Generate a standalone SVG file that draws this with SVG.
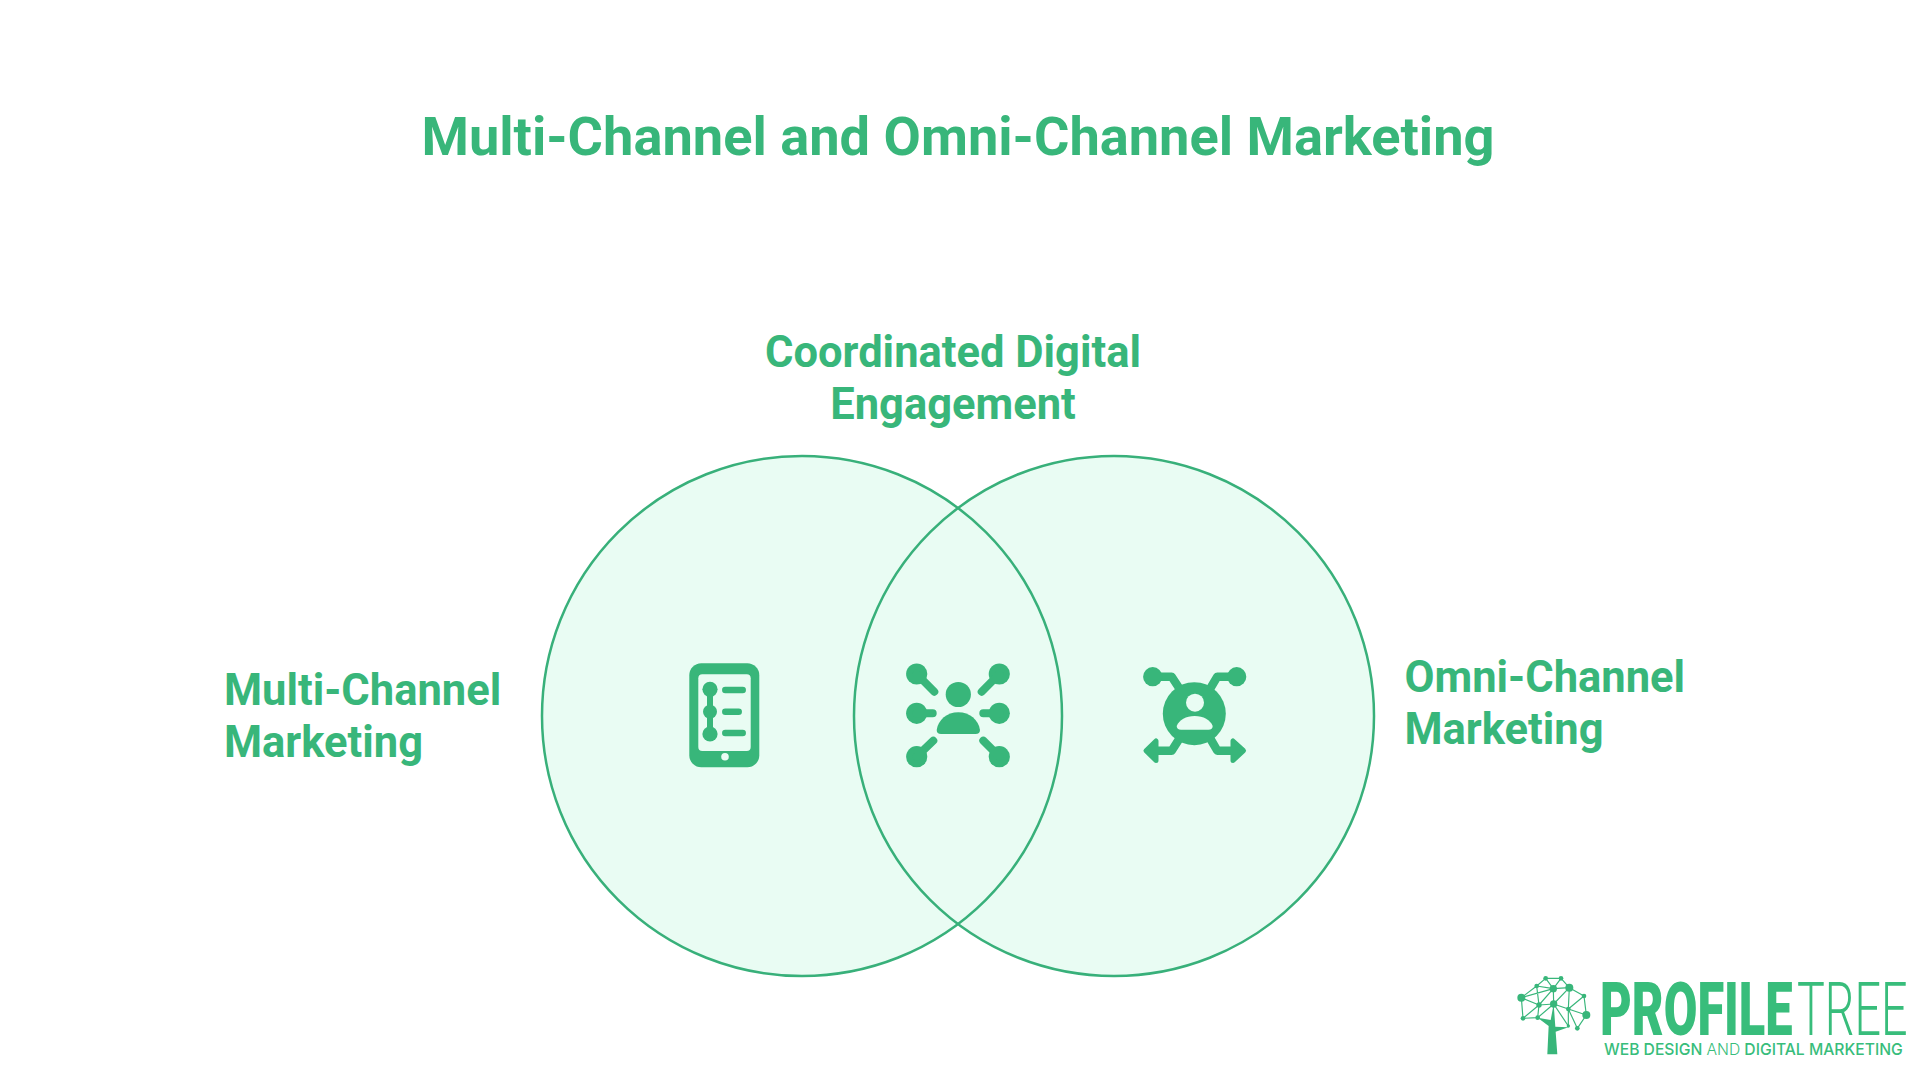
<svg xmlns="http://www.w3.org/2000/svg" width="1920" height="1080" viewBox="0 0 1920 1080">
<style>
.t{font-family:Roboto,"Liberation Sans",sans-serif;font-weight:700;fill:#38b67a}
.title{font-size:54.200px}
.lab{font-size:43.500px}
.c{fill:#e9fcf3;stroke:none}
.o{fill:none;stroke:#38b07a;stroke-width:2.500}
.i{fill:#38b67a}
.h{fill:#e9fcf3}
.l{stroke:#38b67a;stroke-linecap:round;stroke-linejoin:round;fill:none}
.n{stroke:#38b67a;stroke-width:3.500;fill:none}
.g{font-family:Roboto,sans-serif;font-size:74px;fill:#38bd7b}
</style>
<rect width="1920" height="1080" fill="#ffffff"/>
<text id="title" class="t title" x="958" y="155" text-anchor="middle">Multi-Channel and Omni-Channel Marketing</text>
<g id="circle-left"><circle class="c" cx="802" cy="716" r="260"/></g>
<g id="circle-right"><circle class="c" cx="1114" cy="716" r="260"/></g>
<g id="circle-outlines"><circle class="o" cx="802" cy="716" r="260"/><circle class="o" cx="1114" cy="716" r="260"/></g>
<g id="label-left"><text class="t lab" x="224" y="704.500">Multi-Channel</text><text class="t lab" x="224" y="757">Marketing</text></g>
<g id="label-top"><text class="t lab" x="953" y="367" text-anchor="middle">Coordinated Digital</text><text class="t lab" x="953" y="418.500" text-anchor="middle">Engagement</text></g>
<g id="label-right"><text class="t lab" x="1404.500" y="691.500">Omni-Channel</text><text class="t lab" x="1404.500" y="744">Marketing</text></g>
<g id="icon-phone">
<rect class="i" x="689.300" y="663.300" width="70" height="104" rx="12"/>
<rect class="h" x="698.300" y="674.300" width="52.400" height="76.700" rx="4"/>
<circle class="h" cx="725" cy="756.700" r="3.800"/>
<path class="l" d="M710 689.300V734" stroke-width="6"/>
<circle class="i" cx="710" cy="689.300" r="7.600"/><circle class="i" cx="710" cy="711.700" r="7"/><circle class="i" cx="710" cy="734" r="7.600"/>
<path class="l" d="M725.300 690H742.700M725.300 711.700H738.700M725.300 733H742.700" stroke-width="6.500"/>
</g>
<g id="icon-people">
<circle class="i" cx="958.300" cy="694.500" r="12.600"/>
<path class="i" d="M941 734Q936.700 734 936.700 730C938 720 947 712.300 958.300 712.300S978.600 720 980 730Q980 734 975.600 734Z"/>
<g class="i"><circle cx="916.700" cy="674" r="10.600"/><circle cx="999.300" cy="674" r="10.600"/><circle cx="916.700" cy="713.300" r="10.600"/><circle cx="999.300" cy="713.300" r="10.600"/><circle cx="916.700" cy="756.700" r="10.600"/><circle cx="999.300" cy="756.700" r="10.600"/></g>
<path class="l" d="M916.700 674L934.300 691.700M999.300 674L981.700 691.700M916.700 713.300H932.700M999.300 713.300H983.300M916.700 756.700L933.300 740.700M999.300 756.700L983.300 740.700" stroke-width="8"/>
</g>
<g id="icon-hub">
<path class="l" d="M1152.700 676.700H1171.700L1183 694M1236.700 676.700H1217.300L1207 694M1152 750.700H1171.700L1183 733M1238 750.700H1217.300L1207 733" stroke-width="8.500"/>
<circle class="i" cx="1194.300" cy="713.700" r="31.500"/>
<circle class="h" cx="1195" cy="702.700" r="9"/>
<path class="h" d="M1181 729.700Q1176.700 729.700 1176.700 726C1179 720 1186 716 1194.700 716S1210.400 720 1212.700 726Q1212.700 729.700 1208.400 729.700Z"/>
<circle class="i" cx="1152.700" cy="676.700" r="9.600"/><circle class="i" cx="1236.700" cy="676.700" r="9.600"/>
<path class="i" stroke="#38b67a" stroke-width="5" stroke-linejoin="round" d="M1146 750.700L1156 741V760.500ZM1243.500 750.700L1233 741V760.500Z"/>
</g>
<g id="logo">
<g transform="translate(1510 970) scale(.3333)">
<path class="n" d="M107 25L153 25M107 25L80 48M107 25L130 56M153 25L130 56M153 25L178 53M80 48L130 56M130 56L178 53M80 48L34 83M34 83L130 56M34 83L87 105M80 48L87 105M130 56L87 105M130 56L131 102M178 53L175 117M178 53L222 78M178 53L131 102M222 78L175 117M222 78L229 135M175 117L229 135M175 117L131 102M175 117L202 175M229 135L202 175M87 105L131 102M87 105L39 145M34 83L39 145M87 105L83 143M39 145L83 143M131 102L83 143M131 102L175 168M175 117L175 168"/>
<g class="i"><circle cx="107" cy="25" r="7"/><circle cx="153" cy="25" r="7"/><circle cx="80" cy="48" r="7"/><circle cx="130" cy="56" r="11"/><circle cx="178" cy="53" r="12"/><circle cx="34" cy="83" r="12"/><circle cx="222" cy="78" r="7"/><circle cx="87" cy="105" r="8"/><circle cx="131" cy="102" r="11"/><circle cx="175" cy="117" r="7"/><circle cx="229" cy="135" r="12"/><circle cx="39" cy="145" r="7"/><circle cx="83" cy="143" r="7"/><circle cx="202" cy="175" r="7"/><circle cx="175" cy="168" r="5"/></g>
<path class="i" d="M112 253H142L137 185L175 172L136 170L131 102L122 150L83 143L116 168Z"/>
</g>
<text class="g" transform="translate(1600 1034.500) scale(.66 1)" font-weight="900">PROFILE</text>
<text class="g" transform="translate(1797 1034.500) scale(.63 1)" font-weight="300">TREE</text>
<text transform="translate(1604 1055) scale(.95 1)" font-family="Inter,sans-serif" font-weight="500" font-size="16.500" fill="#38bd7b">WEB DESIGN <tspan font-weight="300">AND</tspan> DIGITAL MARKETING</text>
</g>
</svg>
